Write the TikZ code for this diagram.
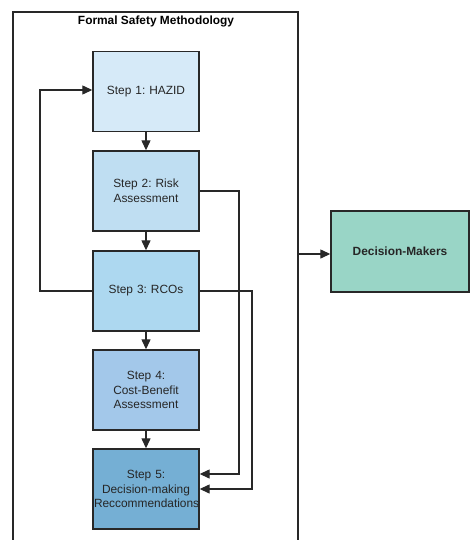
\documentclass[tikz,border=0pt]{standalone}
\usepackage{fontspec}
\setmainfont{Liberation Sans}
\usetikzlibrary{arrows.meta}
\frenchspacing
\definecolor{cA}{RGB}{214,234,248}
\definecolor{cB}{RGB}{191,222,242}
\definecolor{cC}{RGB}{173,216,240}
\definecolor{cD}{RGB}{163,200,234}
\definecolor{cE}{RGB}{117,175,212}
\definecolor{cDM}{RGB}{153,213,198}
\definecolor{ln}{RGB}{40,40,40}
\begin{document}
\begin{tikzpicture}[x=1pt,y=-1pt,
  stepbox/.style={draw=ln,line width=1.4pt,minimum width=106pt,minimum height=80pt,
    text width=104pt,align=center,inner sep=0pt,font=\fontsize{11.9}{14.8}\selectfont,text=black!85},
  conn/.style={draw=ln,line width=1.3pt},
  arr/.style={conn,-{Triangle[length=10pt,width=9pt]}}]
\useasboundingbox (0,0) rectangle (469,540);
% frame around the methodology
\draw[conn] (13,541) -- (13,12) -- (298,12) -- (298,541);
\node[font=\bfseries\fontsize{11.9}{14}\selectfont] (title) at (156,21) {Formal Safety Methodology};
% steps
\node[stepbox,fill=cA] (s1) at (146,91.5) {Step 1: HAZID};
\node[stepbox,fill=cB] (s2) at (146,191) {Step 2: Risk\\Assessment};
\node[stepbox,fill=cC] (s3) at (146,291) {Step 3: RCOs};
\node[stepbox,fill=cD] (s4) at (146,390) {Step 4:\\Cost-Benefit\\Assessment};
\node[stepbox,fill=cE] (s5) at (146,489) {Step 5:\\Decision-making\\Reccommendations};
\node[stepbox,fill=cDM,minimum width=138pt,minimum height=81pt,text width=130pt,font=\bfseries\fontsize{11.9}{14}\selectfont] (dm) at (400,251.5) {Decision-Makers};
% sequence
\draw[arr] (s1) -- (s2);
\draw[arr] (s2) -- (s3);
\draw[arr] (s3) -- (s4);
\draw[arr] (s4) -- (s5);
% feedback loop from RCOs back to HAZID
\coordinate (lb) at (40,291);
\coordinate (lt) at (40,90);
\draw[arr] (s3.west) -- (lb) -- (lt) -- (s1.west |- lt);
% bypass links into step 5
\draw[arr] (s2.east) -- (239,191) -- (239,474) -- (s5.east |- 0,474);
\draw[arr] (s3.east) -- (252,291) -- (252,489) -- (s5.east |- 0,489);
% output of the methodology
\coordinate (fo) at (298,254);
\draw[arr] (fo) -- (dm.west |- fo);
\end{tikzpicture}
\end{document}
